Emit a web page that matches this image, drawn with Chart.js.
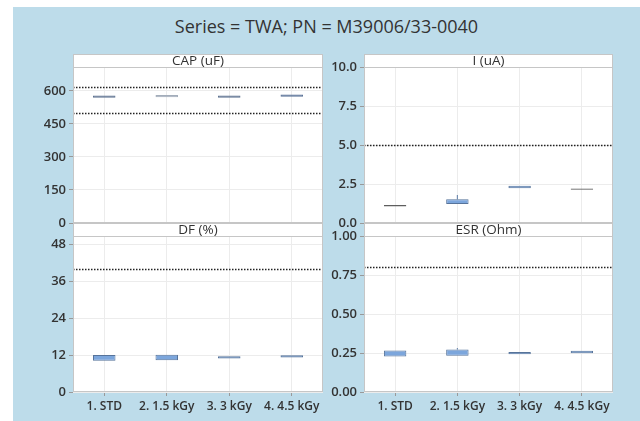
<!DOCTYPE html>
<html><head><meta charset="utf-8">
<script src="https://cdn.jsdelivr.net/npm/chart.js@4"></script>
<style>
html,body{margin:0;padding:0;width:640px;height:421px;overflow:hidden;background:#fff;}
#bg{position:absolute;left:13px;top:7px;width:627px;height:414px;background:#bddcea;}
#title{position:absolute;left:13px;width:627px;top:14px;text-align:center;font:18px "Open Sans",sans-serif;color:#333;}
canvas{position:absolute;}
</style></head><body>
<div id="bg"></div>
<div id="title">Series = TWA; PN = M39006/33-0040</div>
<canvas id="c1" width="330" height="197" style="left:0;top:40px;width:330px;height:197px"></canvas>
<canvas id="c2" width="310" height="197" style="left:330px;top:40px;width:310px;height:197px"></canvas>
<canvas id="c3" width="330" height="198" style="left:0;top:223px;width:330px;height:198px"></canvas>
<canvas id="c4" width="310" height="198" style="left:330px;top:223px;width:310px;height:198px"></canvas>
<script>
const categories = ["1. STD", "2. 1.5 kGy", "3. 3 kGy", "4. 4.5 kGy"];
const panelTitles = ["CAP (uF)", "I (uA)", "DF (%)", "ESR (Ohm)"];

// box ranges [Q1, Q3]
const capBoxes = [[569, 579], [572, 582], [569, 579], [574, 584]];
const iBoxes   = [[1.05, 1.15], [1.21, 1.53], [2.22, 2.38], [2.13, 2.21]];
const dfBoxes  = [[10.1, 12.0], [10.3, 12.1], [10.9, 11.6], [11.2, 11.9]];
const esrBoxes = [[0.228, 0.266], [0.232, 0.273], [0.242, 0.257], [0.248, 0.265]];

// upper whiskers [Q3, max]
const capWhiskers = [null, null, null, null];
const iWhiskers   = [null, [1.53, 1.80], null, null];
const dfWhiskers  = [null, null, null, null];
const esrWhiskers = [null, [0.273, 0.282], null, null];

// specification limits
const capLimits = [500, 620];
const iLimits   = [5];
const dfLimits  = [40];
const esrLimits = [0.8];

// axis ranges and ticks
const capAxis = {max: 709, step: 150, dec: 0};
const iAxis   = {max: 10, step: 2.5, dec: 1};
const dfAxis  = {max: 50.6, step: 12, dec: 0};
const esrAxis = {max: 1.0, step: 0.25, dec: 2};

Chart.defaults.font.family = "'Open Sans', sans-serif";
Chart.defaults.color = '#333';
Chart.defaults.animation = false;

const panelPlugin = {
  id: 'panel',
  beforeDraw(chart, args, opts) {
    const {ctx, chartArea: a} = chart;
    ctx.save();
    ctx.fillStyle = '#fff';
    ctx.fillRect(a.left, a.top - 13, a.right - a.left, a.bottom - a.top + 13);
    ctx.restore();
  },
  beforeDatasetsDraw(chart, args, opts) {
    const {ctx, chartArea: a} = chart;
    const ys = chart.scales.y;
    ctx.save();
    ctx.strokeStyle = '#222';
    ctx.lineWidth = 1.5;
    ctx.setLineDash([1.5, 1.5]);
    (opts.limits || []).forEach(v => {
      const y = Math.round(ys.getPixelForValue(v)) + 0.5;
      ctx.beginPath();
      ctx.moveTo(a.left, y);
      ctx.lineTo(a.right, y);
      ctx.stroke();
    });
    ctx.restore();
  },
  afterDraw(chart, args, opts) {
    const {ctx, chartArea: a} = chart;
    const w = a.right - a.left;
    ctx.save();
    ctx.strokeStyle = '#c6c6c6';
    ctx.lineWidth = 1;
    ctx.strokeRect(a.left + 0.5, a.top - 13 + 0.5, w - 1, 13);
    ctx.strokeRect(a.left + 0.5, a.top - 13 + 0.5, w - 1, a.bottom - a.top + 13 - 1);
    ctx.fillStyle = '#333';
    ctx.font = "13.5px 'Open Sans', sans-serif";
    ctx.textAlign = 'center';
    ctx.textBaseline = 'middle';
    ctx.fillText(opts.title, a.left + w / 2, a.top - 6);
    ctx.restore();
  }
};

function makePanel(id, title, boxes, whiskers, limits, axis, boxColors, borderColors, showX, yWidth, padRight, padTop, xHeight) {
  new Chart(document.getElementById(id), {
    type: 'bar',
    data: {
      labels: categories,
      datasets: [
        {data: boxes, backgroundColor: boxColors, borderColor: borderColors, borderWidth: 1,
         borderSkipped: false, barPercentage: 0.36, categoryPercentage: 1, grouped: false, order: 0},
        {data: whiskers, backgroundColor: '#6a86ad', borderWidth: 0,
         barPercentage: 0.018, categoryPercentage: 1, grouped: false, order: 1}
      ]
    },
    options: {
      responsive: false,
      layout: {padding: {top: padTop, right: padRight, left: 0, bottom: 0}},
      plugins: {legend: {display: false}, tooltip: {enabled: false},
                panel: {title: title, limits: limits}},
      scales: {
        x: {
          grid: {offset: false, color: '#ececec', drawTicks: showX, tickLength: 4, tickColor: '#999'},
          border: {display: false},
          ticks: {display: showX, padding: 3, font: {size: 12, weight: '600'}, color: '#333', maxRotation: 0, autoSkip: false},
          afterFit: s => { s.height = xHeight; }
        },
        y: {
          min: 0, max: axis.max,
          grid: {color: '#ececec', tickLength: 4, tickColor: '#999'},
          border: {display: false},
          ticks: {stepSize: axis.step, includeBounds: false, padding: 3,
                  font: {size: 13, weight: '600'}, color: '#333',
                  callback: v => Number(v).toFixed(axis.dec)},
          afterFit: s => { s.width = yWidth; }
        }
      }
    },
    plugins: [panelPlugin]
  });
}

const BLUE = '#7ca6dc', EDGE = '#56739a';
makePanel('c1', panelTitles[0], capBoxes, capWhiskers, capLimits, capAxis,
  ['#5f7391', '#a3adba', '#5f7391', '#5a7297'], ['#5f7391', '#a3adba', '#5f7391', '#5a7297'], false, 73, 7, 27, 14);
makePanel('c2', panelTitles[1], iBoxes, iWhiskers, iLimits, iAxis,
  ['#5e5e5e', BLUE, BLUE, '#555'], ['#5e5e5e', EDGE, EDGE, '#555'], false, 34, 27, 27, 14);
makePanel('c3', panelTitles[2], dfBoxes, dfWhiskers, dfLimits, dfAxis,
  [BLUE, BLUE, BLUE, BLUE], [EDGE, EDGE, EDGE, EDGE], true, 73, 7, 13, 29);
makePanel('c4', panelTitles[3], esrBoxes, esrWhiskers, esrLimits, esrAxis,
  [BLUE, BLUE, BLUE, BLUE], [EDGE, EDGE, EDGE, EDGE], true, 34, 27, 13, 29);
</script>
</body></html>
